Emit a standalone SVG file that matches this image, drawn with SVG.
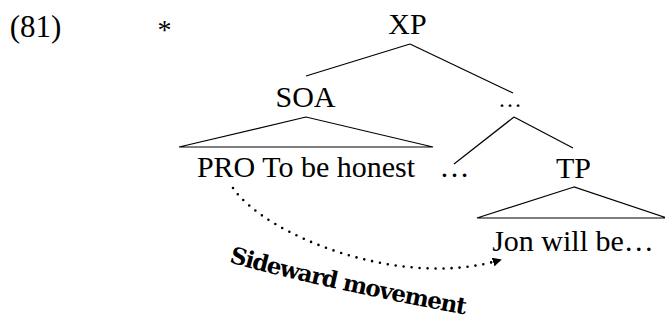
<svg xmlns="http://www.w3.org/2000/svg" width="665" height="323" viewBox="0 0 665 323">
<style>
.t{font-family:"Liberation Serif","DejaVu Serif",serif;font-size:30px;fill:#000;text-anchor:middle}
.e{stroke:#000;stroke-width:1.2;fill:none}
.lbl{font-family:"DejaVu Serif","Liberation Serif",serif;font-size:23px;font-weight:bold;fill:#000;letter-spacing:-1.2px}
</style>
<defs>
<marker id="ah" viewBox="0 0 10 10" refX="8" refY="5" markerWidth="9" markerHeight="9" markerUnits="userSpaceOnUse" orient="auto">
<path d="M0 0 L10 5 L0 10 Z" fill="#000"/>
</marker>
<path id="lp" d="M 229 262 C 290 280, 400 303, 485 318"/>
</defs>
<rect width="665" height="323" fill="#fff"/>
<g id="num"><text class="t" x="35.5" y="37" style="font-size:31px">(81)</text></g>
<g id="star"><text class="t" x="164.5" y="39" style="font-size:28px">*</text></g>
<g id="connectors">
<line class="e" x1="410" y1="44" x2="306" y2="76"/>
<line class="e" x1="410" y1="44" x2="513" y2="93"/>
<polygon class="e" points="306,117 179,147 433,147"/>
<line class="e" x1="514" y1="117" x2="454" y2="164"/>
<line class="e" x1="514" y1="117" x2="573" y2="148"/>
<polygon class="e" points="574,187 477,218 667,218"/>
<path d="M 233 188 C 265 235, 400 290, 500 260" fill="none" stroke="#000" stroke-width="2.6" stroke-linecap="round" stroke-dasharray="0 8" marker-end="url(#ah)"/>
</g>
<g id="XP"><text class="t" x="407.5" y="34">XP</text></g>
<g id="SOA"><text class="t" x="305.5" y="107">SOA</text></g>
<g id="dots1"><text class="t" x="510" y="107" style="font-size:24px">…</text></g>
<g id="PRO"><text class="t" x="306" y="177">PRO To be honest</text></g>
<g id="dots2"><text class="t" x="454.5" y="177">…</text></g>
<g id="TP"><text class="t" x="573.5" y="178">TP</text></g>
<g id="Jon"><text class="t" x="573" y="251">Jon will be…</text></g>
<g id="label"><text class="lbl"><textPath href="#lp">Sideward movement</textPath></text></g>
</svg>
